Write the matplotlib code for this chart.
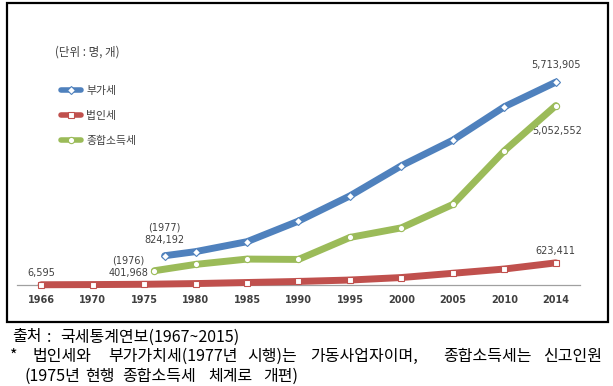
import numpy as np
import matplotlib
matplotlib.use("Agg")
import matplotlib.pyplot as plt
from matplotlib.patches import Rectangle

plt.rcParams['font.family'] = ['Noto Sans CJK KR', 'DejaVu Sans']

# category axis (years shown as ticks)
tick_years = [1966, 1970, 1975, 1980, 1985, 1990, 1995, 2000, 2005, 2010, 2014]

# 부가세 (from 1977)
vat_years = [1977, 1980, 1985, 1990, 1995, 2000, 2005, 2010, 2014]
vat_vals = [824192, 940000, 1220000, 1800000, 2510000, 3360000, 4080000, 5020000, 5713905]

# 법인세
corp_years = [1966, 1970, 1975, 1980, 1985, 1990, 1995, 2000, 2005, 2010, 2014]
corp_vals = [6595, 12000, 20000, 40000, 70000, 100000, 140000, 210000, 330000, 450000, 623411]

# 종합소득세 (from 1976)
inc_years = [1976, 1980, 1985, 1990, 1995, 2000, 2005, 2010, 2014]
inc_vals = [401968, 580000, 730000, 720000, 1340000, 1610000, 2270000, 3780000, 5052552]

c_blue = '#4F81BD'
c_red = '#C0504D'
c_green = '#9BBB59'
txt = '#404040'

# footnote lines, split into words (the original is justified)
note1 = ['출처', ':', '국세통계연보(1967~2015)']
note1_x = [12, 47, 60]
note2 = ['*', '법인세와', '부가가치세(1977년', '시행)는', '가동사업자이며,', '종합소득세는', '신고인원']
note2_x = [10, 32, 108, 247, 310, 443, 543]
note3 = ['(1975년', '현행', '종합소득세', '체계로', '개편)']
note3_x = [25, 85, 122, 208, 263]


def pos(years):
    # position on the category axis, between ticks for in-between years
    return np.interp(years, tick_years, np.arange(len(tick_years)))


fig = plt.figure(figsize=(6.13, 3.86), dpi=100)
W, H = 613, 386

# outer frame of the chart
fig.patches.append(Rectangle((7 / W, 1 - 322 / H), 601 / W, 319 / H, transform=fig.transFigure,
                             fill=False, edgecolor='black', linewidth=1.6))

ax = fig.add_axes([17 / W, 1 - 285 / H, 563 / W, 245 / H])
ax.set_xlim(-0.47, 10.47)
ax.set_ylim(0, 6.9e6)
for s in ['top', 'right', 'left']:
    ax.spines[s].set_visible(False)
ax.spines['bottom'].set_color('#a0a0a0')
ax.spines['bottom'].set_linewidth(0.9)
ax.set_yticks([])
ax.set_xticks(np.arange(len(tick_years)))
ax.set_xticklabels(tick_years, fontsize=7, fontweight='bold', color=txt, family='DejaVu Sans')
ax.tick_params(axis='x', length=0, pad=7.5)

kw = dict(linewidth=5, markerfacecolor='white', clip_on=False, zorder=5,
          solid_capstyle='round', solid_joinstyle='round')
ax.plot(pos(vat_years), vat_vals, color=c_blue, marker='D', markersize=4,
        markeredgecolor=c_blue, markeredgewidth=0.8, label='부가세', **kw)
ax.plot(pos(corp_years), corp_vals, color=c_red, marker='s', markersize=4.5,
        markeredgecolor=c_red, markeredgewidth=0.8, label='법인세', **kw)
ax.plot(pos(inc_years), inc_vals, color=c_green, marker='o', markersize=4.5,
        markeredgecolor=c_green, markeredgewidth=0.8, label='종합소득세', **kw)

lab = dict(fontsize=7, color=txt, ha='center', family='DejaVu Sans')
ax.annotate('5,713,905', (pos([2014])[0], vat_vals[-1]), xytext=(0, 9),
            textcoords='offset points', va='bottom', **lab)
ax.annotate('5,052,552', (pos([2014])[0], inc_vals[-1]), xytext=(1, -15),
            textcoords='offset points', va='top', **lab)
ax.annotate('623,411', (pos([2014])[0], corp_vals[-1]), xytext=(0, 5),
            textcoords='offset points', va='bottom', **lab)
ax.annotate('6,595', (pos([1966])[0], corp_vals[0]), xytext=(0, 5),
            textcoords='offset points', va='bottom', **lab)
ax.annotate('(1977)\n824,192', (pos([1977])[0], vat_vals[0]), xytext=(0, 8),
            textcoords='offset points', va='bottom', linespacing=1.3, **lab)
ax.annotate('(1976)\n401,968', (pos([1976])[0], inc_vals[0]), xytext=(-19, -5),
            textcoords='offset points', va='bottom', linespacing=1.3, **lab)

fig.text(55 / W, 1 - 52 / H, '(단위 : 명, 개)', fontsize=8.3, color=txt, va='center')
leg = ax.legend(loc='upper left', bbox_to_anchor=(53 / W, 1 - 78 / H), bbox_transform=fig.transFigure,
                frameon=False, fontsize=7.8, handlelength=1.9, handletextpad=0.45,
                labelspacing=1.38, borderpad=0.2, labelcolor=txt)
for ln in leg.get_lines():
    ln.set_linewidth(4)

for words, xs, y in [(note1, note1_x, 337), (note2, note2_x, 356), (note3, note3_x, 376)]:
    for w, x in zip(words, xs):
        fig.text(x / W, 1 - y / H, w, fontsize=11.5, va='center')

fig.savefig('out.png', dpi=100)
